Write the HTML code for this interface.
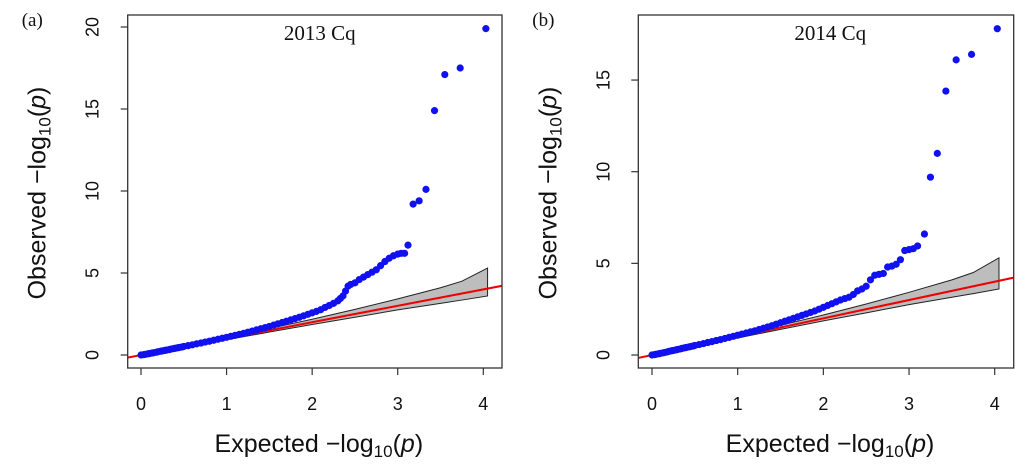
<!DOCTYPE html>
<html><head><meta charset="utf-8"><style>
html,body{margin:0;padding:0;background:#fff;width:1024px;height:469px;overflow:hidden}
svg{display:block}
.tk{font-family:"Liberation Sans",sans-serif;font-size:18px;fill:#111}
.ttl{font-family:"Liberation Sans",sans-serif;font-size:25px;fill:#111}
.sr{font-family:"Liberation Serif",serif;fill:#111}
</style></head><body>
<svg id="fig" width="1024" height="469" viewBox="0 0 1024 469" xmlns="http://www.w3.org/2000/svg"></svg>
<script>
const expectedA=[0,.03,.05,.08,.1,.13,.15,.18,.2,.23,.25,.28,.3,.33,.35,.38,.4,.43,.45,.48,.5,.55,.6,.65,.7,.75,.8,.85,.9,.95,1,1.05,1.1,1.15,1.2,1.25,1.3,1.35,1.4,1.45,1.5,1.55,1.6,1.65,1.7,1.75,1.8,1.85,1.9,1.95,2,2.05,2.1,2.15,2.2,2.25,2.3,2.33,2.36,2.39,2.42,2.45,2.5,2.55,2.6,2.65,2.7,2.75,2.8,2.85,2.9,2.95,3,3.04,3.08,3.12,3.18,3.25,3.33,3.43,3.55,3.73,4.03];
const observedA=[0,.02,.04,.07,.09,.12,.14,.17,.2,.23,.25,.28,.3,.33,.36,.39,.41,.44,.46,.49,.52,.57,.62,.68,.73,.79,.84,.9,.96,1.02,1.08,1.14,1.2,1.26,1.32,1.39,1.46,1.53,1.6,1.67,1.74,1.82,1.9,1.98,2.06,2.14,2.22,2.3,2.39,2.48,2.57,2.66,2.76,2.9,3.02,3.15,3.3,3.45,3.6,3.9,4.2,4.3,4.4,4.6,4.75,4.9,5.05,5.2,5.45,5.7,5.9,6.05,6.15,6.2,6.2,6.7,9.2,9.4,10.1,14.9,17.1,17.5,19.9];
const expectedB=[0,.03,.05,.08,.1,.13,.15,.18,.2,.23,.25,.28,.3,.33,.35,.38,.4,.43,.45,.48,.5,.55,.6,.65,.7,.75,.8,.85,.9,.95,1,1.05,1.1,1.15,1.2,1.25,1.3,1.35,1.4,1.45,1.5,1.55,1.6,1.65,1.7,1.75,1.8,1.85,1.9,1.95,2,2.05,2.1,2.15,2.2,2.25,2.3,2.35,2.4,2.45,2.5,2.55,2.6,2.65,2.7,2.75,2.8,2.85,2.9,2.95,3,3.05,3.1,3.18,3.25,3.33,3.43,3.55,3.73,4.03];
const observedB=[0,.02,.04,.07,.09,.12,.14,.17,.2,.23,.25,.28,.3,.33,.36,.39,.41,.44,.46,.49,.52,.57,.62,.68,.73,.79,.84,.9,.96,1.02,1.08,1.14,1.2,1.26,1.32,1.39,1.46,1.53,1.6,1.68,1.76,1.84,1.92,2,2.08,2.16,2.24,2.32,2.4,2.5,2.6,2.7,2.8,2.9,3,3.08,3.15,3.3,3.5,3.6,3.75,4.1,4.35,4.4,4.45,4.8,4.85,4.95,5.2,5.7,5.75,5.8,5.95,6.6,9.7,11,14.4,16.1,16.4,17.8];
const bandX=[0,.5,1,1.5,2,2.5,3,3.5,3.75,4.05];
const bandUpper=[0,.55,1.08,1.62,2.18,2.78,3.42,4.1,4.5,5.3];
const bandLower=[0,.47,.93,1.4,1.86,2.3,2.75,3.15,3.35,3.6];
const xTicks=[0,1,2,3,4];
const yTicksA=[0,5,10,15,20];
const yTicksB=[0,5,10,15];

const NS="http://www.w3.org/2000/svg";
const fig=document.getElementById('fig');
function mk(tag,attrs,parent){const e=document.createElementNS(NS,tag);for(const k in attrs)e.setAttribute(k,attrs[k]);parent.appendChild(e);return e;}

function panel(cfg){
  const g=mk('g',{},fig);
  
  
  const sx=v=>cfg.x0+(cfg.x4-cfg.x0)*v/4;
  const sy=v=>cfg.y0-v*cfg.ppu;
  const clip=mk('clipPath',{id:cfg.id+'-clip'},g);
  mk('rect',{x:cfg.L,y:cfg.T,width:cfg.R-cfg.L,height:cfg.B-cfg.T},clip);
  const plot=mk('g',{'clip-path':'url(#'+cfg.id+'-clip)'},g);
  let d='M'+bandX.map((v,i)=>sx(v)+','+sy(bandUpper[i])).join(' L');
  d+=' L'+bandX.slice().reverse().map((v,i)=>sx(v)+','+sy(bandLower[bandX.length-1-i])).join(' L')+' Z';
  const band=mk('path',{d:d,fill:'#bdbdbd',stroke:'#222','stroke-width':1},plot);
  
  
  const rl=mk('line',{x1:sx(-0.3),y1:sy(-0.3),x2:sx(4.4),y2:sy(4.4),stroke:'#ee0000','stroke-width':2},plot);
  
  
  cfg.ex.forEach((v,i)=>{
    const c=mk('circle',{cx:sx(v),cy:sy(cfg.ob[i]),r:3.6,fill:'#1010f0'},plot);
    
    
  });
  const box=mk('rect',{x:cfg.L,y:cfg.T,width:cfg.R-cfg.L,height:cfg.B-cfg.T,fill:'none',stroke:'#333','stroke-width':1.3},g);
  
  
  xTicks.forEach(t=>{
    mk('line',{x1:sx(t),y1:cfg.B,x2:sx(t),y2:cfg.B+7,stroke:'#333','stroke-width':1.2},g);
    const tx=mk('text',{x:sx(t),y:410,'text-anchor':'middle',class:'tk'},g);
    tx.textContent=t;
    
    
  });
  cfg.yt.forEach(t=>{
    mk('line',{x1:cfg.L,y1:sy(t),x2:cfg.L-7,y2:sy(t),stroke:'#333','stroke-width':1.2},g);
    const tx=mk('text',{x:0,y:0,'text-anchor':'middle',class:'tk',transform:'translate('+(cfg.L-36)+','+sy(t)+') rotate(-90) translate(0,7)'},g);
    tx.textContent=t;
    
    
  });
  const xt=mk('text',{x:(cfg.L+cfg.R)/2+4,y:452,'text-anchor':'middle',class:'ttl'},g);
  xt.innerHTML='Expected  \u2212log<tspan font-size="17" dy="5">10</tspan><tspan dy="-5">(</tspan><tspan font-style="italic">p</tspan>)';
  
  
  const yt=mk('text',{x:0,y:0,'text-anchor':'middle',class:'ttl',transform:'translate('+(cfg.L-91)+',193) rotate(-90) translate(0,9)'},g);
  yt.innerHTML='Observed  \u2212log<tspan font-size="17" dy="5">10</tspan><tspan dy="-5">(</tspan><tspan font-style="italic">p</tspan>)';
  
  
  const pl=mk('text',{x:cfg.L-106,y:26,class:'sr','font-size':19},g);
  pl.textContent=cfg.label;
  
  
  const ti=mk('text',{x:cfg.L+192,y:40,'text-anchor':'middle',class:'sr','font-size':21},g);
  ti.textContent=cfg.title;
  
  
}
panel({id:'panel-a',L:127.7,T:15,R:502,B:368,x0:141,x4:483.3,y0:355,ppu:16.4,ex:expectedA,ob:observedA,yt:yTicksA,label:'(a)',title:'2013 Cq'});
panel({id:'panel-b',L:638.3,T:15,R:1013.7,B:368,x0:652,x4:994.7,y0:355,ppu:18.33,ex:expectedB,ob:observedB,yt:yTicksB,label:'(b)',title:'2014 Cq'});
</script>
</body></html>
